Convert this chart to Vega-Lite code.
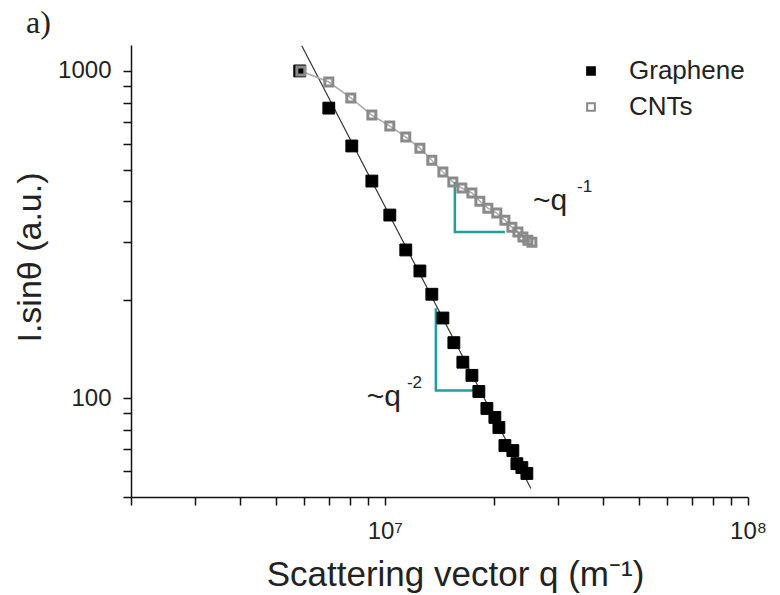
{
  "$schema": "https://vega.github.io/schema/vega-lite/v6.json",
  "width": 617,
  "height": 452,
  "autosize": {"type": "none"},
  "padding": {"left": 131, "top": 45, "right": 32, "bottom": 98},
  "background": "white",
  "title": {"text": "a)", "anchor": "start", "frame": "group", "font": "Liberation Serif", "fontSize": 32, "fontWeight": "normal", "color": "#222222", "dx": -105, "dy": 35, "offset": 13, "baseline": "alphabetic"},
  "config": {
    "view": {"stroke": null},
    "axis": {"grid": false, "domainColor": "#111111", "domainWidth": 1.5, "tickColor": "#111111", "tickWidth": 1.5, "labelFont": "Liberation Sans", "labelFontSize": 24, "labelColor": "#222222", "titleFont": "Liberation Sans", "titleFontSize": 35, "titleFontWeight": "normal", "titleColor": "#222222"}
  },
  "datasets": {
    "points": [
      {"series": "Graphene", "q": 5830000, "I": 1000},
      {"series": "Graphene", "q": 7010000, "I": 770},
      {"series": "Graphene", "q": 8110000, "I": 590},
      {"series": "Graphene", "q": 9210000, "I": 461},
      {"series": "Graphene", "q": 10320000, "I": 363},
      {"series": "Graphene", "q": 11420000, "I": 284},
      {"series": "Graphene", "q": 12490000, "I": 245},
      {"series": "Graphene", "q": 13470000, "I": 208},
      {"series": "Graphene", "q": 14450000, "I": 176},
      {"series": "Graphene", "q": 15490000, "I": 148},
      {"series": "Graphene", "q": 16400000, "I": 129},
      {"series": "Graphene", "q": 17370000, "I": 117.6},
      {"series": "Graphene", "q": 18150000, "I": 105},
      {"series": "Graphene", "q": 19100000, "I": 93.2},
      {"series": "Graphene", "q": 20090000, "I": 87.5},
      {"series": "Graphene", "q": 20610000, "I": 81.5},
      {"series": "Graphene", "q": 21410000, "I": 71.8},
      {"series": "Graphene", "q": 22520000, "I": 69.3},
      {"series": "Graphene", "q": 23100000, "I": 63.2},
      {"series": "Graphene", "q": 23840000, "I": 61.5},
      {"series": "Graphene", "q": 24610000, "I": 59},
      {"series": "CNTs", "q": 5870000, "I": 1000},
      {"series": "CNTs", "q": 7010000, "I": 925},
      {"series": "CNTs", "q": 8060000, "I": 827},
      {"series": "CNTs", "q": 9210000, "I": 733},
      {"series": "CNTs", "q": 10320000, "I": 679},
      {"series": "CNTs", "q": 11420000, "I": 628},
      {"series": "CNTs", "q": 12490000, "I": 581},
      {"series": "CNTs", "q": 13470000, "I": 534},
      {"series": "CNTs", "q": 14450000, "I": 491},
      {"series": "CNTs", "q": 15390000, "I": 458},
      {"series": "CNTs", "q": 16300000, "I": 439},
      {"series": "CNTs", "q": 17370000, "I": 424},
      {"series": "CNTs", "q": 18270000, "I": 400},
      {"series": "CNTs", "q": 19220000, "I": 381},
      {"series": "CNTs", "q": 20340000, "I": 368},
      {"series": "CNTs", "q": 21410000, "I": 350},
      {"series": "CNTs", "q": 22380000, "I": 333},
      {"series": "CNTs", "q": 23250000, "I": 322},
      {"series": "CNTs", "q": 24000000, "I": 311},
      {"series": "CNTs", "q": 24770000, "I": 304},
      {"series": "CNTs", "q": 25410000, "I": 300}
    ],
    "fit": [
      {"q": 5906000, "I": 1193},
      {"q": 25250000, "I": 53.1}
    ],
    "slopes": [
      {"tri": "CNTs", "step": 0, "q": 15590000, "I": 458},
      {"tri": "CNTs", "step": 1, "q": 15590000, "I": 322},
      {"tri": "CNTs", "step": 2, "q": 21410000, "I": 322},
      {"tri": "Graphene", "step": 0, "q": 13820000, "I": 188.4},
      {"tri": "Graphene", "step": 1, "q": 13820000, "I": 105.8},
      {"tri": "Graphene", "step": 2, "q": 17700000, "I": 105.8}
    ],
    "powers": [
      {"text": "~q", "q": 25570000, "I": 375.7},
      {"text": "~q", "q": 8920000, "I": 94.5}
    ],
    "exponents": [
      {"text": "-1", "q": 33810000, "I": 426.6},
      {"text": "-2", "q": 11500000, "I": 107.3}
    ]
  },
  "encoding": {
    "x": {"field": "q", "type": "quantitative", "scale": {"type": "log", "domain": [2000000, 100000000], "nice": false}, "axis": {
      "values": [2000000, 3000000, 4000000, 5000000, 6000000, 7000000, 8000000, 9000000, 10000000, 20000000, 30000000, 40000000, 50000000, 60000000, 70000000, 80000000, 90000000, 100000000],
      "labelExpr": "datum.value == 10000000 ? '10⁷' : datum.value == 100000000 ? '10⁸' : ''",
      "tickSize": 8,
      "labelPadding": 14, "labelFlush": false, "labelOverlap": false, "labelBound": false,
      "title": "Scattering vector q (m⁻¹)", "titleX": 324, "titleY": 88, "titleBaseline": "alphabetic", "titleAnchor": "middle", "titleAlign": "center"}},
    "y": {"field": "I", "type": "quantitative", "scale": {"type": "log", "domain": [50, 1200], "nice": false}, "axis": {
      "values": [50, 60, 70, 80, 90, 100, 200, 300, 400, 500, 600, 700, 800, 900, 1000],
      "labelExpr": "datum.value == 100 ? '100' : datum.value == 1000 ? '1000' : ''",
      "tickSize": 8,
      "labelPadding": 12, "labelFlush": false, "labelOverlap": false, "labelBound": false,
      "title": "I.sinθ (a.u.)", "titleFontSize": 34, "titleX": -91, "titleY": 212, "titleBaseline": "alphabetic", "titleAngle": 270, "titleAlign": "center"}}
  },
  "layer": [
    {
      "data": {"name": "fit"},
      "mark": {"type": "line", "color": "#333333", "strokeWidth": 1.2},
      "encoding": {}
    },
    {
      "data": {"name": "points"},
      "transform": [{"filter": "datum.series == 'CNTs'"}],
      "mark": {"type": "line", "color": "#ababab", "strokeWidth": 1.5},
      "encoding": {}
    },
    {
      "data": {"name": "slopes"},
      "mark": {"type": "line", "color": "#1f9f9b", "strokeWidth": 2.5},
      "encoding": {
        "detail": {"field": "tri"},
        "order": {"field": "step"}
      }
    },
    {
      "data": {"name": "points"},
      "transform": [{"filter": "datum.series == 'Graphene'"}],
      "mark": {"type": "point", "shape": "square", "size": 140, "strokeWidth": 1, "opacity": 1},
      "encoding": {
        "fill": {"field": "series", "type": "nominal", "scale": {"domain": ["Graphene", "CNTs"], "range": ["#000000", "rgba(255,255,255,0)"]},
          "legend": {"title": null, "orient": "none", "legendX": 447, "legendY": 13, "labelFont": "Liberation Sans", "labelFontSize": 26, "labelColor": "#222222", "symbolType": "square", "symbolSize": 60, "symbolStrokeWidth": 2, "labelOffset": 25, "rowPadding": 10, "padding": 0}},
        "stroke": {"field": "series", "type": "nominal", "scale": {"domain": ["Graphene", "CNTs"], "range": ["#000000", "#8a8a8a"]}}
      }
    },
    {
      "data": {"name": "points"},
      "transform": [{"filter": "datum.series == 'CNTs'"}],
      "mark": {"type": "point", "shape": "square", "size": 64, "strokeWidth": 3, "opacity": 1},
      "encoding": {
        "fill": {"field": "series", "type": "nominal"},
        "stroke": {"field": "series", "type": "nominal"}
      }
    },
    {
      "data": {"name": "powers"},
      "mark": {"type": "text", "font": "Liberation Sans", "fontSize": 30, "align": "left", "baseline": "alphabetic", "color": "#222222"},
      "encoding": {
        "text": {"field": "text"}
      }
    },
    {
      "data": {"name": "exponents"},
      "mark": {"type": "text", "font": "Liberation Sans", "fontSize": 17, "align": "left", "baseline": "alphabetic", "color": "#222222"},
      "encoding": {
        "text": {"field": "text"}
      }
    }
  ]
}
